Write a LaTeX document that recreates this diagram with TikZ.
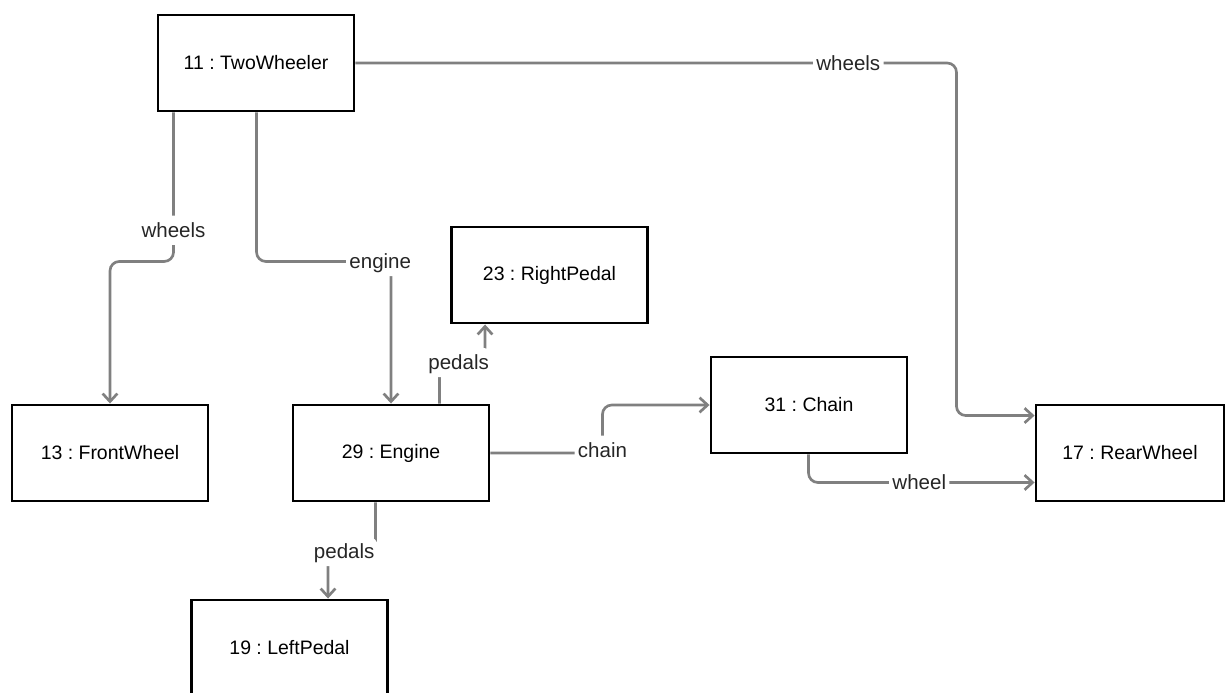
\documentclass[tikz,border=0pt]{standalone}
\usepackage{fontspec}
\setmainfont{Liberation Sans}
\usepackage{xcolor}
\usetikzlibrary{arrows.meta, calc}
\definecolor{linkgray}{HTML}{808080}
\frenchspacing

\begin{document}
\begin{tikzpicture}[x=0.75pt, y=-0.75pt,
	obj/.style={draw=black, line width=2.2pt, fill=white, minimum width=147pt, minimum height=72pt, inner sep=0pt, font=\fontsize{14.6}{16}\selectfont},
	link/.style={draw=linkgray, line width=2pt, rounded corners=7pt, -{Straight Barb[length=6pt, width=11pt, line width=2pt]}},
	lbl/.style={fill=white, inner xsep=2.5pt, inner ysep=5.5pt, text height=11pt, text depth=0pt, text=black!85, font=\fontsize{15.4}{17}\selectfont}]
	% Frame
	\useasboundingbox (0,0) rectangle (1226,692);
	\clip (0,0) rectangle (1226,692);
	
	% Objects
	\node[obj] (tw) at (256,63) {11 : TwoWheeler};
	\node[obj] (fw) at (110,453) {13 : FrontWheel};
	\node[obj] (eng) at (391,453) {29 : Engine};
	\node[obj] (rp) at (549.5,275) {23 : RightPedal};
	\node[obj] (ch) at (809,405) {31 : Chain};
	\node[obj, minimum width=141pt] (rw) at (1130,453) {17 : RearWheel};
	\node[obj] (lp) at (289.5,648) {19 : LeftPedal};
	
	% Links
	\draw[link] (tw.east) -- node[lbl, pos=0.82] {wheels} ++(601,0) |- ($(rw.north west)+(0,12)$);
	\draw[link] ($(tw.south west)+(17,0)$) -- node[lbl, pos=0.79] {wheels} ++(0,149) -| (fw.north);
	\draw[link] ($(tw.south west)+(100,0)$) -- ++(0,149) -| node[lbl, pos=0.46] {engine} (eng.north);
	\draw[link] ($(eng.north west)+(148,0)$) -- ++(0,-41) -| node[lbl, pos=0.21] {pedals} ($(rp.south west)+(35,0)$);
	\draw[link] ($(eng.south west)+(84,0)$) -- ++(0,49) -| node[lbl, pos=0.33] {pedals} ($(lp.north west)+(138,0)$);
	\draw[link] (eng.east) -- ++(112,0) node[lbl, yshift=2pt] {chain} |- (ch.west);
	\draw[link] ($(ch.south west)+(99,0)$) |- node[lbl, pos=0.745] {wheel} ($(rw.south west)+(0,-20)$);
\end{tikzpicture}
\end{document}
